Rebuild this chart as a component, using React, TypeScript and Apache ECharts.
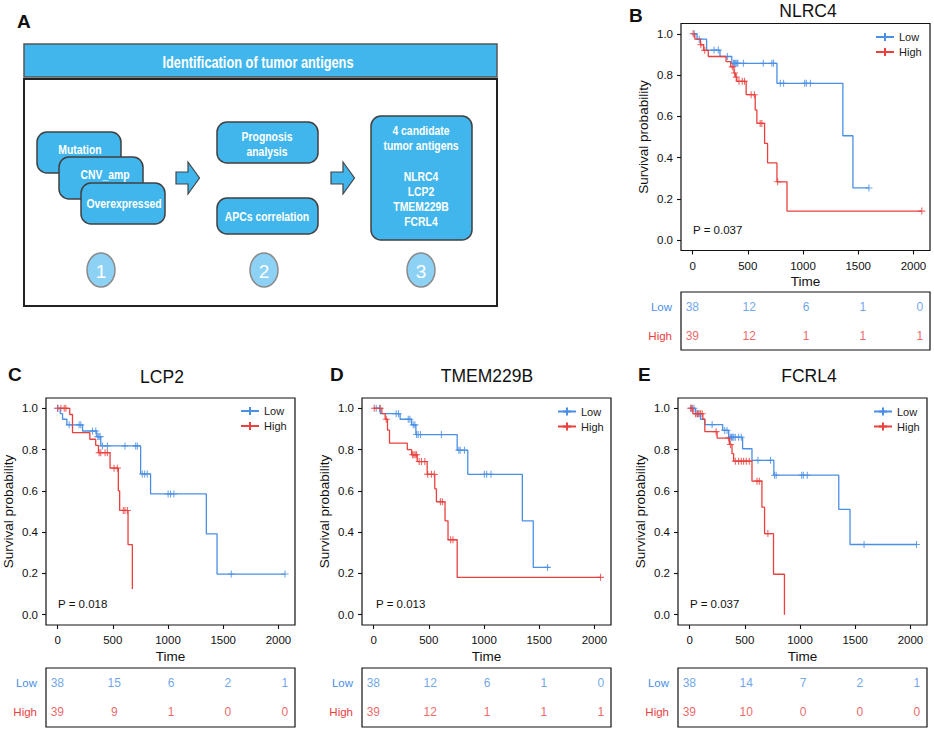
import React, { useEffect, useRef } from 'react';
import * as echarts from 'echarts';

const BLUE = '#4A8FE4';
const RED = '#E8413F';
const FONT = "'Liberation Sans', Arial, Helvetica, sans-serif";
const PLUS = 'path://M5,0L5,10M0,5L10,5';

const xTicks = [0, 500, 1000, 1500, 2000];
const yTicks = [0, 0.2, 0.4, 0.6, 0.8, 1.0];
const riskTimes = [0, 500, 1000, 1500, 2000];

// ---- B: NLRC4 ----
const nlrc4LowSteps = [[0, 1], [40, 0.974], [127, 0.921], [248, 0.89], [355, 0.857], [764, 0.76], [1361, 0.506], [1452, 0.253], [1597, 0.253]];
const nlrc4LowCensor = [15, 60, 194, 233, 315, 370, 380, 390, 400, 410, 460, 640, 718, 733, 794, 824, 1015, 1030, 1067, 1597];
const nlrc4HighSteps = [[0, 1], [20, 0.974], [70, 0.947], [100, 0.92], [142, 0.89], [303, 0.865], [345, 0.84], [375, 0.81], [390, 0.79], [400, 0.77], [485, 0.705], [567, 0.631], [582, 0.566], [652, 0.469], [679, 0.375], [764, 0.283], [855, 0.141], [2076, 0.141]];
const nlrc4HighCensor = [5, 75, 110, 360, 380, 395, 420, 450, 470, 530, 560, 612, 627, 770, 2076];
const nlrc4LowRisk = [38, 12, 6, 1, 0];
const nlrc4HighRisk = [39, 12, 1, 1, 1];

// ---- C: LCP2 ----
const lcp2LowSteps = [[0, 1], [24, 0.974], [45, 0.947], [84, 0.92], [226, 0.89], [355, 0.863], [391, 0.818], [752, 0.682], [842, 0.585], [1347, 0.392], [1444, 0.197], [2060, 0.197]];
const lcp2LowCensor = [3, 105, 195, 210, 316, 346, 365, 375, 385, 406, 451, 610, 707, 722, 767, 788, 812, 1001, 1023, 1053, 1573, 2060];
const lcp2HighSteps = [[0, 1], [110, 0.97], [135, 0.882], [292, 0.85], [345, 0.82], [370, 0.785], [475, 0.71], [550, 0.6], [562, 0.505], [638, 0.339], [677, 0.124]];
const lcp2HighCensor = [0, 30, 60, 75, 376, 391, 430, 451, 511, 541, 595, 610, 632];
const lcp2LowRisk = [38, 15, 6, 2, 1];
const lcp2HighRisk = [39, 9, 1, 0, 0];

// ---- D: TMEM229B ----
const tmemLowSteps = [[0, 1], [60, 0.974], [240, 0.947], [344, 0.92], [383, 0.873], [757, 0.797], [853, 0.68], [1347, 0.455], [1446, 0.229], [1590, 0.229]];
const tmemLowCensor = [24, 54, 204, 225, 314, 329, 359, 374, 389, 404, 425, 614, 772, 784, 823, 1003, 1024, 1063, 1575];
const tmemHighSteps = [[0, 1], [75, 0.974], [105, 0.947], [126, 0.894], [144, 0.831], [305, 0.8], [344, 0.775], [395, 0.742], [485, 0.68], [554, 0.61], [569, 0.547], [647, 0.455], [674, 0.363], [757, 0.181], [2060, 0.181]];
const tmemHighCensor = [6, 60, 115, 353, 365, 377, 389, 413, 434, 464, 490, 524, 550, 605, 623, 698, 719, 2055];
const tmemLowRisk = [38, 12, 6, 1, 0];
const tmemHighRisk = [39, 12, 1, 1, 1];

// ---- E: FCRL4 ----
const fcrlLowSteps = [[0, 1], [54, 0.974], [99, 0.947], [138, 0.921], [300, 0.893], [354, 0.86], [480, 0.804], [565, 0.748], [763, 0.676], [1351, 0.51], [1453, 0.34], [2060, 0.34]];
const fcrlLowCensor = [18, 39, 69, 84, 204, 318, 339, 369, 380, 390, 400, 414, 444, 468, 619, 733, 769, 784, 1015, 1030, 1066, 1580, 2055];
const fcrlHighSteps = [[0, 1], [30, 0.974], [120, 0.947], [138, 0.887], [249, 0.856], [360, 0.825], [384, 0.78], [399, 0.744], [565, 0.647], [655, 0.521], [679, 0.393], [760, 0.196], [859, 0]];
const fcrlHighCensor = [9, 24, 54, 69, 84, 99, 114, 240, 354, 370, 414, 444, 468, 489, 513, 540, 610, 631, 709];
const fcrlLowRisk = [38, 14, 7, 2, 1];
const fcrlHighRisk = [39, 10, 0, 0, 0];

const panelTitles = ['NLRC4', 'LCP2', 'TMEM229B', 'FCRL4'];
const panelLetters = ['B', 'C', 'D', 'E'];
const pValues = ['P = 0.037', 'P = 0.018', 'P = 0.013', 'P = 0.037'];
const riskGroups = ['High', 'Low'];

const panelData = [
  { lowSteps: nlrc4LowSteps, lowCensor: nlrc4LowCensor, highSteps: nlrc4HighSteps, highCensor: nlrc4HighCensor, lowRisk: nlrc4LowRisk, highRisk: nlrc4HighRisk },
  { lowSteps: lcp2LowSteps, lowCensor: lcp2LowCensor, highSteps: lcp2HighSteps, highCensor: lcp2HighCensor, lowRisk: lcp2LowRisk, highRisk: lcp2HighRisk },
  { lowSteps: tmemLowSteps, lowCensor: tmemLowCensor, highSteps: tmemHighSteps, highCensor: tmemHighCensor, lowRisk: tmemLowRisk, highRisk: tmemHighRisk },
  { lowSteps: fcrlLowSteps, lowCensor: fcrlLowCensor, highSteps: fcrlHighSteps, highCensor: fcrlHighCensor, lowRisk: fcrlLowRisk, highRisk: fcrlHighRisk },
];

// layout (pixels)
const layouts = [
  { letterX: 629, letterY: 15, left: 681, top: 23.5, tableTop: 292, tableH: 58, titleX: 808, titleY: 11, pX: 693, pY: 230, legLeft: 875, legTop: 31.5 },
  { letterX: 8, letterY: 374, left: 46, top: 398, tableTop: 668, tableH: 59, titleX: 162, titleY: 377, pX: 58, pY: 604, legLeft: 240, legTop: 405.5 },
  { letterX: 330, letterY: 374, left: 362, top: 398, tableTop: 668, tableH: 59, titleX: 487, titleY: 376, pX: 376, pY: 604, legLeft: 557, legTop: 406 },
  { letterX: 638, letterY: 374, left: 678, top: 398, tableTop: 668, tableH: 59, titleX: 809, titleY: 376, pX: 690, pY: 604, legLeft: 873, legTop: 406 },
];
const BOX_W = 249;
const BOX_H = 227;

// Panel A texts
const headerText = 'Identification of tumor antigens';
const step1Labels = ['Mutation', 'CNV_amp', 'Overexpressed'];
const step2Labels = [['Prognosis', 'analysis'], ['APCs correlation']];
const step3Lines = ['4 candidate', 'tumor antigens', '', 'NLRC4', 'LCP2', 'TMEM229B', 'FCRL4'];
const stepNumbers = ['1', '2', '3'];

function survAt(steps: number[][], t: number) {
  let s = 1;
  for (const st of steps) {
    if (st[0] <= t) s = st[1];
  }
  return s;
}

const BOX_FILL = '#41B6EC';
const BOX_STROKE = '#404040';
const NARROW = 0.8;

function boxText(text: string, x: number, y: number, size = 13) {
  return { type: 'text', x, y, scaleX: NARROW, style: { text, fontSize: size, fontWeight: 'bold', fill: '#fff', fontFamily: FONT, align: 'center', verticalAlign: 'middle' } };
}

function buildPanelA(): any[] {
  const els: any[] = [];
  els.push({ type: 'text', x: 17, y: 21, style: { text: 'A', fontSize: 19, fontWeight: 'bold', fill: '#111', fontFamily: FONT, align: 'left', verticalAlign: 'middle' } });
  els.push({ type: 'rect', shape: { x: 24, y: 44, width: 473, height: 33 }, style: { fill: BOX_FILL, stroke: '#555', lineWidth: 1.5 } });
  els.push(boxText(headerText, 258, 62, 16));
  els.push({ type: 'rect', shape: { x: 24, y: 79, width: 473, height: 227 }, style: { fill: '#fff', stroke: '#222', lineWidth: 2 } });
  const s1 = [
    { x: 37, y: 132, w: 84, h: 41, tx: 80, ty: 149 },
    { x: 59, y: 157, w: 84, h: 42, tx: 105, ty: 174 },
    { x: 81, y: 183, w: 84, h: 41, tx: 124, ty: 203 },
  ];
  s1.forEach((b, i) => {
    els.push({ type: 'rect', shape: { x: b.x, y: b.y, width: b.w, height: b.h, r: 10 }, style: { fill: BOX_FILL, stroke: BOX_STROKE, lineWidth: 1.5 } });
    els.push(boxText(step1Labels[i], b.tx, b.ty));
  });
  // step 2
  els.push({ type: 'rect', shape: { x: 217, y: 122, width: 101, height: 41, r: 10 }, style: { fill: BOX_FILL, stroke: BOX_STROKE, lineWidth: 1.5 } });
  step2Labels[0].forEach((t, i) => {
    els.push(boxText(t, 267, 136 + i * 15.5));
  });
  els.push({ type: 'rect', shape: { x: 217, y: 198, width: 101, height: 36, r: 10 }, style: { fill: BOX_FILL, stroke: BOX_STROKE, lineWidth: 1.5 } });
  els.push(boxText(step2Labels[1][0], 267, 216));
  // step 3
  els.push({ type: 'rect', shape: { x: 371, y: 116, width: 101, height: 124, r: 10 }, style: { fill: BOX_FILL, stroke: BOX_STROKE, lineWidth: 1.5 } });
  step3Lines.forEach((t, i) => {
    if (!t) return;
    els.push(boxText(t, 421, 130 + i * 15.2));
  });
  // arrows
  [176, 331].forEach((ax) => {
    els.push({
      type: 'polygon',
      shape: { points: [[ax, 172], [ax + 12, 172], [ax + 12, 162], [ax + 23.5, 178], [ax + 12, 194], [ax + 12, 184], [ax, 184]] },
      style: { fill: BOX_FILL, stroke: '#444', lineWidth: 1.2 },
    });
  });
  // circles
  [101, 264, 421].forEach((cx, i) => {
    els.push({ type: 'ellipse', shape: { cx, cy: 270, rx: 14, ry: 17 }, style: { fill: '#8DD2F4', stroke: '#8a8a8a', lineWidth: 1.5 } });
    els.push({ type: 'text', x: cx, y: 271, style: { text: stepNumbers[i], fontSize: 19, fill: '#fff', fontFamily: FONT, align: 'center', verticalAlign: 'middle' } });
  });
  return els;
}

export default function App() {
  const ref = useRef<HTMLDivElement>(null);
  useEffect(() => {
    if (!ref.current) return;
    const chart = echarts.init(ref.current, undefined, { renderer: 'svg' });

    const kmGrid: any[] = [];
    const kmX: any[] = [];
    const kmY: any[] = [];
    const tGrid: any[] = [];
    const tX: any[] = [];
    const tY: any[] = [];
    const series: any[] = [];
    const legend: any[] = [];
    const graphic: any[] = buildPanelA();

    layouts.forEach((L, i) => {
      kmGrid.push({ left: L.left, top: L.top, width: BOX_W, height: BOX_H, show: true, borderColor: '#111', borderWidth: 1.2, backgroundColor: 'transparent' });
      kmX.push({
        gridIndex: i, type: 'value', min: -105, max: 2150,
        axisLine: { show: false, onZero: false },
        axisTick: { show: true, length: 4, customValues: xTicks, lineStyle: { color: '#111', width: 1.1 } },
        axisLabel: { customValues: xTicks, formatter: (v: number) => String(v), fontSize: 11.5, color: '#111', margin: 9 },
        splitLine: { show: false },
        name: 'Time', nameLocation: 'middle', nameGap: 24, nameTextStyle: { fontSize: 13.5, color: '#111' },
      });
      kmY.push({
        gridIndex: i, type: 'value', min: -0.05, max: 1.05,
        axisLine: { show: false, onZero: false },
        axisTick: { show: true, length: 4, customValues: yTicks, lineStyle: { color: '#111', width: 1.1 } },
        axisLabel: { customValues: yTicks, formatter: (v: number) => v.toFixed(1), fontSize: 11.5, color: '#111', margin: 8 },
        splitLine: { show: false },
        name: 'Survival probability', nameLocation: 'middle', nameGap: 31, nameTextStyle: { fontSize: 13.5, color: '#111' },
      });
      const d = panelData[i];
      series.push({
        type: 'line', name: 'Low', xAxisIndex: i, yAxisIndex: i, data: d.lowSteps, step: 'end',
        showSymbol: false, symbol: PLUS, symbolSize: 8, silent: true,
        lineStyle: { color: BLUE, width: 1.3 }, itemStyle: { color: BLUE, borderColor: BLUE, borderWidth: 1.3 },
      });
      series.push({
        type: 'line', name: 'High', xAxisIndex: i, yAxisIndex: i, data: d.highSteps, step: 'end',
        showSymbol: false, symbol: PLUS, symbolSize: 8, silent: true,
        lineStyle: { color: RED, width: 1.3 }, itemStyle: { color: RED, borderColor: RED, borderWidth: 1.3 },
      });
      series.push({
        type: 'scatter', name: 'Low censored', xAxisIndex: i, yAxisIndex: i, silent: true,
        data: d.lowCensor.map((t) => [t, survAt(d.lowSteps, t)]),
        symbol: PLUS, symbolSize: 7, itemStyle: { color: 'none', borderColor: BLUE, borderWidth: 1.1 },
      });
      series.push({
        type: 'scatter', name: 'High censored', xAxisIndex: i, yAxisIndex: i, silent: true,
        data: d.highCensor.map((t) => [t, survAt(d.highSteps, t)]),
        symbol: PLUS, symbolSize: 7, itemStyle: { color: 'none', borderColor: RED, borderWidth: 1.1 },
      });
      legend.push({
        orient: 'vertical', left: L.legLeft, top: L.legTop, itemWidth: 18, itemHeight: 10, itemGap: 4, padding: 0,
        data: ['Low', 'High'], selectedMode: false, textStyle: { fontSize: 11, color: '#222' },
      });
      // risk table
      const ti = 4 + i;
      tGrid.push({ left: L.left, top: L.tableTop, width: BOX_W, height: L.tableH, show: true, borderColor: '#111', borderWidth: 1.2, backgroundColor: 'transparent' });
      tX.push({ gridIndex: ti, type: 'value', min: -100, max: 2090, show: false });
      tY.push({
        gridIndex: ti, type: 'category', data: riskGroups,
        axisLine: { show: false }, axisTick: { show: false }, splitLine: { show: false },
        axisLabel: { margin: 9, fontSize: 11.5, color: (v: string) => (v === 'Low' ? BLUE : RED) },
      });
      series.push({
        type: 'scatter', name: 'Low at risk', xAxisIndex: ti, yAxisIndex: ti, silent: true,
        data: riskTimes.map((t, j) => [t, 'Low', d.lowRisk[j]]),
        symbolSize: 1, itemStyle: { color: 'rgba(0,0,0,0)' },
        label: { show: true, position: 'inside', formatter: (p: any) => String(p.value[2]), color: BLUE, fontSize: 12 },
      });
      series.push({
        type: 'scatter', name: 'High at risk', xAxisIndex: ti, yAxisIndex: ti, silent: true,
        data: riskTimes.map((t, j) => [t, 'High', d.highRisk[j]]),
        symbolSize: 1, itemStyle: { color: 'rgba(0,0,0,0)' },
        label: { show: true, position: 'inside', formatter: (p: any) => String(p.value[2]), color: RED, fontSize: 12 },
      });
      // texts
      graphic.push({ type: 'text', x: L.letterX, y: L.letterY, style: { text: panelLetters[i], fontSize: 19, fontWeight: 'bold', fill: '#111', fontFamily: FONT, align: 'left', verticalAlign: 'middle' } });
      graphic.push({ type: 'text', x: L.titleX, y: L.titleY, style: { text: panelTitles[i], fontSize: 17.5, fill: '#111', fontFamily: FONT, align: 'center', verticalAlign: 'middle' } });
      graphic.push({ type: 'text', x: L.pX, y: L.pY, style: { text: pValues[i], fontSize: 11.5, fill: '#111', fontFamily: FONT, align: 'left', verticalAlign: 'middle' } });
    });

    chart.setOption({
      animation: false,
      backgroundColor: '#fff',
      textStyle: { fontFamily: FONT },
      grid: kmGrid.concat(tGrid),
      xAxis: kmX.concat(tX),
      yAxis: kmY.concat(tY),
      series, legend, graphic,
    });
    return () => chart.dispose();
  }, []);
  return <div ref={ref} style={{ position: 'absolute', left: 0, top: 0, width: 934, height: 730 }} />;
}
